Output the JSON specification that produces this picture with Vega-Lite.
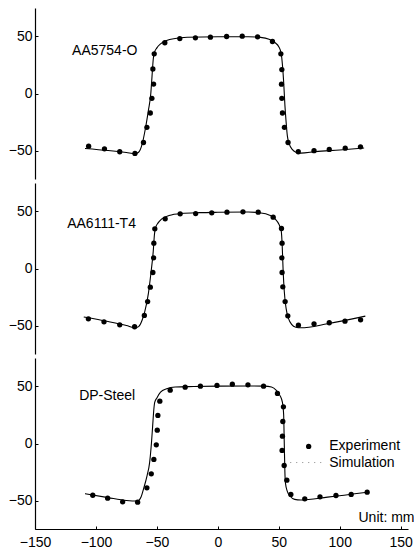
{
  "$schema": "https://vega.github.io/schema/vega-lite/v6.json",
  "padding": {"left": 8, "top": 8, "right": 4, "bottom": 0},
  "spacing": 4,
  "config": {
    "view": {"stroke": null},
    "font": "Liberation Sans",
    "axis": {"grid": false, "title": null, "domainColor": "#000", "tickColor": "#000", "labelColor": "#000", "labelFont": "Liberation Sans", "labelFontSize": 14, "tickSize": -3, "domainWidth": 1.2, "labelFlush": false},
    "axisY": {"labelPadding": 6},
    "text": {"font": "Liberation Sans", "fontSize": 14, "color": "#000"}
  },
  "datasets": {
    "exp": [
      {"p":"A","x":-106,"y":-46.2},{"p":"A","x":-93,"y":-48.5},{"p":"A","x":-80.5,"y":-51.1},{"p":"A","x":-68,"y":-52.6},{"p":"A","x":-61,"y":-43},{"p":"A","x":-58.2,"y":-29.7},{"p":"A","x":-55.4,"y":-17.1},{"p":"A","x":-54.1,"y":-4.2},{"p":"A","x":-52.7,"y":8.3},{"p":"A","x":-53.3,"y":21.5},{"p":"A","x":-52.2,"y":34.8},{"p":"A","x":-43.5,"y":44.5},{"p":"A","x":-31.2,"y":48.2},{"p":"A","x":-18.4,"y":48.8},{"p":"A","x":-6.1,"y":49.4},{"p":"A","x":7.2,"y":50},{"p":"A","x":20,"y":50.3},{"p":"A","x":32.6,"y":49.7},{"p":"A","x":44.8,"y":45.6},{"p":"A","x":51.7,"y":34.8},{"p":"A","x":52.5,"y":21},{"p":"A","x":52.2,"y":8.2},{"p":"A","x":52.5,"y":-4.2},{"p":"A","x":53,"y":-17.1},{"p":"A","x":54.6,"y":-29.7},{"p":"A","x":57.6,"y":-43},{"p":"A","x":66,"y":-51.1},{"p":"A","x":78.9,"y":-50.2},{"p":"A","x":91.4,"y":-49.1},{"p":"A","x":104.5,"y":-48},{"p":"A","x":117,"y":-46.8},
      {"p":"B","x":-106.2,"y":-44.1},{"p":"B","x":-93.4,"y":-46.8},{"p":"B","x":-80.5,"y":-49.4},{"p":"B","x":-68.3,"y":-51.1},{"p":"B","x":-60.3,"y":-41.2},{"p":"B","x":-57.6,"y":-29},{"p":"B","x":-55.4,"y":-16.4},{"p":"B","x":-53.3,"y":-3.5},{"p":"B","x":-52.7,"y":9.4},{"p":"B","x":-52.5,"y":22.2},{"p":"B","x":-51.7,"y":34.8},{"p":"B","x":-43.2,"y":43.6},{"p":"B","x":-30.9,"y":48},{"p":"B","x":-18.2,"y":48.2},{"p":"B","x":-5,"y":48.8},{"p":"B","x":7.5,"y":49.4},{"p":"B","x":20.6,"y":49.7},{"p":"B","x":33.1,"y":49.4},{"p":"B","x":45.4,"y":45},{"p":"B","x":52.2,"y":35.1},{"p":"B","x":52.7,"y":22.2},{"p":"B","x":52.5,"y":9.4},{"p":"B","x":52.7,"y":-3.5},{"p":"B","x":53.3,"y":-16.1},{"p":"B","x":55.2,"y":-29},{"p":"B","x":57.4,"y":-41.5},{"p":"B","x":66.1,"y":-49.7},{"p":"B","x":78.9,"y":-48.5},{"p":"B","x":91.4,"y":-47.6},{"p":"B","x":104.3,"y":-46.2},{"p":"B","x":117.1,"y":-45},
      {"p":"C","x":-102.6,"y":-45.4},{"p":"C","x":-90.4,"y":-48},{"p":"C","x":-78.1,"y":-51.2},{"p":"C","x":-65.8,"y":-51.5},{"p":"C","x":-58.2,"y":-38.9},{"p":"C","x":-54.6,"y":-26.6},{"p":"C","x":-52.5,"y":-14},{"p":"C","x":-50.5,"y":-1.2},{"p":"C","x":-49.7,"y":11.7},{"p":"C","x":-49.2,"y":24.6},{"p":"C","x":-47.6,"y":37.1},{"p":"C","x":-39.1,"y":46.8},{"p":"C","x":-26.8,"y":49.4},{"p":"C","x":-14.3,"y":50.3},{"p":"C","x":-0.7,"y":50.9},{"p":"C","x":11.9,"y":52},{"p":"C","x":24.7,"y":51.5},{"p":"C","x":37.5,"y":50.3},{"p":"C","x":48.9,"y":43.9},{"p":"C","x":53.8,"y":32.2},{"p":"C","x":53.3,"y":19.3},{"p":"C","x":53,"y":6.4},{"p":"C","x":52.7,"y":-6.1},{"p":"C","x":54.4,"y":-19.3},{"p":"C","x":56.6,"y":-32.2},{"p":"C","x":59.9,"y":-44.7},{"p":"C","x":71.3,"y":-48.5},{"p":"C","x":83.8,"y":-46.8},{"p":"C","x":96.9,"y":-45.6},{"p":"C","x":109.4,"y":-44.7},{"p":"C","x":122.5,"y":-42.7}
    ],
    "sim": [
      {"p":"A","x":-109,"y":-48.2},{"p":"A","x":-90,"y":-50},{"p":"A","x":-75,"y":-51.8},{"p":"A","x":-68,"y":-52.8},{"p":"A","x":-65,"y":-51.5},{"p":"A","x":-62,"y":-44},{"p":"A","x":-60,"y":-34},{"p":"A","x":-57,"y":-15},{"p":"A","x":-55,"y":0},{"p":"A","x":-54,"y":15},{"p":"A","x":-53,"y":30},{"p":"A","x":-52,"y":36},{"p":"A","x":-50,"y":40},{"p":"A","x":-47,"y":43.5},{"p":"A","x":-42,"y":46.5},{"p":"A","x":-35,"y":48.3},{"p":"A","x":-25,"y":49.3},{"p":"A","x":0,"y":49.8},{"p":"A","x":25,"y":49.8},{"p":"A","x":35,"y":49.2},{"p":"A","x":42,"y":47.5},{"p":"A","x":47,"y":44.5},{"p":"A","x":50,"y":41},{"p":"A","x":52,"y":35},{"p":"A","x":53,"y":25},{"p":"A","x":54,"y":10},{"p":"A","x":55,"y":-10},{"p":"A","x":56,"y":-25},{"p":"A","x":57,"y":-37},{"p":"A","x":58.5,"y":-44},{"p":"A","x":61,"y":-49},{"p":"A","x":64,"y":-51.5},{"p":"A","x":68,"y":-52.3},{"p":"A","x":80,"y":-51},{"p":"A","x":100,"y":-49.5},{"p":"A","x":120,"y":-47.8},
      {"p":"B","x":-110,"y":-42.5},{"p":"B","x":-90,"y":-46.5},{"p":"B","x":-75,"y":-50},{"p":"B","x":-68,"y":-52},{"p":"B","x":-65,"y":-51},{"p":"B","x":-62,"y":-45},{"p":"B","x":-60,"y":-38},{"p":"B","x":-57,"y":-22},{"p":"B","x":-55,"y":-5},{"p":"B","x":-53,"y":15},{"p":"B","x":-52,"y":30},{"p":"B","x":-51,"y":36},{"p":"B","x":-49,"y":40},{"p":"B","x":-46,"y":43.5},{"p":"B","x":-40,"y":46.5},{"p":"B","x":-30,"y":48.3},{"p":"B","x":-15,"y":49},{"p":"B","x":0,"y":49.3},{"p":"B","x":25,"y":49.5},{"p":"B","x":35,"y":48.8},{"p":"B","x":42,"y":47},{"p":"B","x":47,"y":43.5},{"p":"B","x":50,"y":39},{"p":"B","x":52,"y":33},{"p":"B","x":52.8,"y":20},{"p":"B","x":53.5,"y":0},{"p":"B","x":54.5,"y":-20},{"p":"B","x":56,"y":-35},{"p":"B","x":58,"y":-44},{"p":"B","x":60.5,"y":-49},{"p":"B","x":64,"y":-51.5},{"p":"B","x":68,"y":-52},{"p":"B","x":90,"y":-48.5},{"p":"B","x":121,"y":-41.8},
      {"p":"C","x":-109,"y":-44},{"p":"C","x":-90,"y":-47.5},{"p":"C","x":-75,"y":-50},{"p":"C","x":-66,"y":-50.5},{"p":"C","x":-63,"y":-47},{"p":"C","x":-61,"y":-40},{"p":"C","x":-58,"y":-28},{"p":"C","x":-56,"y":-17},{"p":"C","x":-54.5,"y":0},{"p":"C","x":-53.5,"y":15},{"p":"C","x":-52.5,"y":30},{"p":"C","x":-51.8,"y":36},{"p":"C","x":-50,"y":40},{"p":"C","x":-47,"y":45},{"p":"C","x":-42,"y":48},{"p":"C","x":-35,"y":49.6},{"p":"C","x":-20,"y":50},{"p":"C","x":0,"y":50.3},{"p":"C","x":25,"y":50.5},{"p":"C","x":38,"y":50.3},{"p":"C","x":44,"y":49.5},{"p":"C","x":48,"y":46.5},{"p":"C","x":51,"y":42},{"p":"C","x":53,"y":36},{"p":"C","x":54,"y":25},{"p":"C","x":54.5,"y":0},{"p":"C","x":55,"y":-25},{"p":"C","x":55.5,"y":-35},{"p":"C","x":57,"y":-42},{"p":"C","x":59.5,"y":-46.5},{"p":"C","x":63,"y":-49},{"p":"C","x":68,"y":-49.5},{"p":"C","x":90,"y":-47},{"p":"C","x":122.5,"y":-42.7}
    ],
    "labels": [
      {"p":"A","x":-119.6,"y":37.5,"t":"AA5754-O"},
      {"p":"B","x":-123.6,"y":39,"t":"AA6111-T4"},
      {"p":"C","x":-113.8,"y":42,"t":"DP-Steel"},
      {"p":"C","x":91.4,"y":-2.6,"t":"Experiment"},
      {"p":"C","x":91.4,"y":-16.7,"t":"Simulation"},
      {"p":"C","x":115.4,"y":-65,"t":"Unit: mm"}
    ],
    "legdot": [{"x":74.5,"y":-2.6}],
    "legline": [{"x":59.4,"x2":85.6,"y":-16.7}]
  },
  "vconcat": [
    {
      "width": 373, "height": 171,
      "layer": [
        {"data": {"name": "sim"}, "transform": [{"filter": "datum.p === 'A'"}], "mark": {"type": "line", "color": "#000", "strokeWidth": 1.1, "interpolate": "monotone"},
         "encoding": {"x": {"field": "x", "type": "quantitative", "scale": {"domain": [-150, 156], "nice": false}, "axis": null}, "y": {"field": "y", "type": "quantitative", "scale": {"domain": [-75, 75], "nice": false}, "axis": {"values": [-50, 0, 50]}}}},
        {"data": {"name": "exp"}, "transform": [{"filter": "datum.p === 'A'"}], "mark": {"type": "circle", "color": "#000", "opacity": 1, "size": 28},
         "encoding": {"x": {"field": "x", "type": "quantitative"}, "y": {"field": "y", "type": "quantitative"}}},
        {"data": {"name": "labels"}, "transform": [{"filter": "datum.p === 'A'"}], "mark": {"type": "text", "align": "left", "baseline": "middle"},
         "encoding": {"x": {"field": "x", "type": "quantitative"}, "y": {"field": "y", "type": "quantitative"}, "text": {"field": "t"}}}
      ]
    },
    {
      "width": 373, "height": 171,
      "layer": [
        {"data": {"name": "sim"}, "transform": [{"filter": "datum.p === 'B'"}], "mark": {"type": "line", "color": "#000", "strokeWidth": 1.1, "interpolate": "monotone"},
         "encoding": {"x": {"field": "x", "type": "quantitative", "scale": {"domain": [-150, 156], "nice": false}, "axis": null}, "y": {"field": "y", "type": "quantitative", "scale": {"domain": [-75, 75], "nice": false}, "axis": {"values": [-50, 0, 50]}}}},
        {"data": {"name": "exp"}, "transform": [{"filter": "datum.p === 'B'"}], "mark": {"type": "circle", "color": "#000", "opacity": 1, "size": 28},
         "encoding": {"x": {"field": "x", "type": "quantitative"}, "y": {"field": "y", "type": "quantitative"}}},
        {"data": {"name": "labels"}, "transform": [{"filter": "datum.p === 'B'"}], "mark": {"type": "text", "align": "left", "baseline": "middle"},
         "encoding": {"x": {"field": "x", "type": "quantitative"}, "y": {"field": "y", "type": "quantitative"}, "text": {"field": "t"}}}
      ]
    },
    {
      "width": 373, "height": 171,
      "layer": [
        {"data": {"name": "sim"}, "transform": [{"filter": "datum.p === 'C'"}], "mark": {"type": "line", "color": "#000", "strokeWidth": 1.1, "interpolate": "monotone"},
         "encoding": {"x": {"field": "x", "type": "quantitative", "scale": {"domain": [-150, 156], "nice": false}, "axis": {"values": [-150, -100, -50, 0, 50, 100, 150], "labelPadding": 9}}, "y": {"field": "y", "type": "quantitative", "scale": {"domain": [-75, 75], "nice": false}, "axis": {"values": [-50, 0, 50]}}}},
        {"data": {"name": "exp"}, "transform": [{"filter": "datum.p === 'C'"}], "mark": {"type": "circle", "color": "#000", "opacity": 1, "size": 28},
         "encoding": {"x": {"field": "x", "type": "quantitative"}, "y": {"field": "y", "type": "quantitative"}}},
        {"data": {"name": "labels"}, "transform": [{"filter": "datum.p === 'C'"}], "mark": {"type": "text", "align": "left", "baseline": "middle"},
         "encoding": {"x": {"field": "x", "type": "quantitative"}, "y": {"field": "y", "type": "quantitative"}, "text": {"field": "t"}}},
        {"data": {"name": "legdot"}, "mark": {"type": "circle", "color": "#000", "opacity": 1, "size": 28},
         "encoding": {"x": {"field": "x", "type": "quantitative"}, "y": {"field": "y", "type": "quantitative"}}},
        {"data": {"name": "legline"}, "mark": {"type": "rule", "color": "#888", "strokeDash": [1, 5], "strokeWidth": 1},
         "encoding": {"x": {"field": "x", "type": "quantitative"}, "x2": {"field": "x2"}, "y": {"field": "y", "type": "quantitative"}}}
      ]
    }
  ]
}
